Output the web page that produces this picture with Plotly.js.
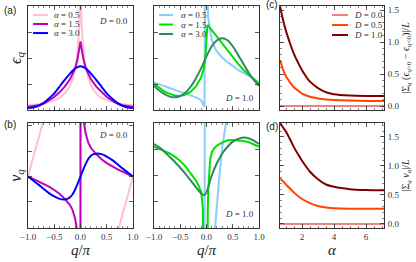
<!DOCTYPE html>
<html><head><meta charset="utf-8">
<script src="https://cdn.plot.ly/plotly-3.0.1.min.js"></script>
<style>html,body{margin:0;padding:0;background:#fff}#c{width:416px;height:262px}</style>
</head><body><div id="c"></div>
<script>
// ---------- labels ----------
const alphaLabels = ['<i>α</i> = 0.5', '<i>α</i> = 1.5', '<i>α</i> = 3.0'];
const dLabels = ['<i>D</i> = 0.0', '<i>D</i> = 0.5', '<i>D</i> = 1.0'];
const panelLabels = ['(a)', '(b)', '(c)', '(d)'];
const qTicks = [-1, -0.5, 0, 0.5, 1];
const alphaTicks = [2, 4, 6];
const rightTicks = [0, 0.5, 1, 1.5];

// ---------- (a) eps_q, D = 0 ----------
const qA05 = [-1,-0.9,-0.8,-0.7,-0.6,-0.5,-0.4,-0.3,-0.25,-0.2,-0.15,-0.1,-0.07,-0.05,-0.03,-0.02,-0.01,-0.005,0,0.005,0.01,0.02,0.03,0.05,0.07,0.1,0.15,0.2,0.25,0.3,0.4,0.5,0.6,0.7,0.8,0.9,1];
const epsA05 = [0.045,0.048,0.055,0.065,0.077,0.093,0.116,0.16,0.194,0.235,0.3,0.39,0.49,0.6,0.74,0.86,1.0,1.3,2.5,1.3,1.0,0.86,0.74,0.6,0.49,0.39,0.3,0.235,0.194,0.16,0.116,0.093,0.077,0.065,0.055,0.048,0.045];
const qA15 = [-1,-0.9,-0.8,-0.7,-0.6,-0.5,-0.4,-0.3,-0.2,-0.15,-0.1,-0.06,-0.03,-0.01,0,0.01,0.03,0.06,0.1,0.15,0.2,0.3,0.4,0.5,0.6,0.7,0.8,0.9,1];
const epsA15 = [0.032,0.035,0.045,0.062,0.092,0.125,0.17,0.225,0.295,0.345,0.405,0.48,0.56,0.62,0.66,0.62,0.56,0.48,0.405,0.345,0.295,0.225,0.17,0.125,0.092,0.062,0.045,0.035,0.032];
const qA30 = [-1,-0.9,-0.8,-0.7,-0.6,-0.5,-0.4,-0.3,-0.2,-0.1,0,0.1,0.2,0.3,0.4,0.5,0.6,0.7,0.8,0.9,1];
const epsA30 = [0.02,0.025,0.04,0.068,0.11,0.16,0.225,0.29,0.35,0.4,0.42,0.4,0.35,0.29,0.225,0.16,0.11,0.068,0.04,0.025,0.02];

// ---------- (b) v_q, D = 0 ----------
const qB05 = [-1,-0.95,-0.9,-0.85,-0.8,-0.75,-0.7,-0.6,-0.3,-0.001,0.001,0.3,0.6,0.7,0.75,0.8,0.85,0.9,0.95,1];
const vB05 = [0,0.185,0.37,0.555,0.74,0.925,1.11,1.5,2.5,6,-6,-2.5,-1.5,-1.11,-0.925,-0.74,-0.555,-0.37,-0.185,0];
const qB15 = [-1,-0.9,-0.8,-0.7,-0.6,-0.5,-0.4,-0.3,-0.2,-0.15,-0.1,-0.07,-0.04,-0.02,-0.001,0.001,0.02,0.04,0.07,0.1,0.15,0.2,0.3,0.4,0.5,0.6,0.7,0.8,0.9,1];
const vB15 = [0,-0.048,-0.095,-0.145,-0.2,-0.265,-0.34,-0.44,-0.56,-0.66,-0.84,-1.03,-1.4,-2,-6,6,2,1.4,1.03,0.84,0.66,0.56,0.44,0.34,0.265,0.2,0.145,0.095,0.048,0];
const qB30 = [-1,-0.9,-0.8,-0.7,-0.6,-0.5,-0.4,-0.3,-0.25,-0.2,-0.15,-0.1,-0.05,0,0.05,0.1,0.15,0.2,0.25,0.3,0.4,0.5,0.6,0.7,0.8,0.9,1];
const vB30 = [0,-0.08,-0.16,-0.247,-0.327,-0.393,-0.44,-0.45,-0.44,-0.41,-0.35,-0.25,-0.13,0,0.13,0.25,0.35,0.41,0.44,0.45,0.44,0.393,0.327,0.247,0.16,0.08,0];

// ---------- top middle: eps_q, D = 1 ----------
const qC05 = [-1,-0.9,-0.8,-0.7,-0.6,-0.5,-0.4,-0.3,-0.2,-0.15,-0.1,-0.07,-0.05,-0.04,-0.035,-0.03,0,0.016,0.03,0.05,0.08,0.1,0.15,0.2,0.3,0.4,0.5,0.6,0.7,0.8,0.9,1];
const epsC05 = [0.265,0.248,0.231,0.213,0.196,0.178,0.16,0.141,0.122,0.11,0.09,0.062,0.04,0.032,0.2,1.3,1.5,1.0,0.9,0.83,0.71,0.675,0.605,0.56,0.505,0.46,0.425,0.385,0.358,0.33,0.302,0.265];
const qC15 = [-1,-0.9,-0.8,-0.7,-0.6,-0.5,-0.4,-0.3,-0.2,-0.1,-0.05,-0.02,0,0.015,0.03,0.05,0.1,0.2,0.3,0.4,0.5,0.6,0.7,0.8,0.9,1];
const epsC15 = [0.252,0.21,0.177,0.155,0.139,0.135,0.148,0.177,0.226,0.316,0.403,0.516,0.694,0.806,0.813,0.8,0.768,0.703,0.629,0.565,0.5,0.445,0.387,0.339,0.29,0.252];
const qC30 = [-1,-0.9,-0.8,-0.7,-0.6,-0.5,-0.4,-0.3,-0.2,-0.1,0,0.1,0.2,0.3,0.4,0.5,0.6,0.7,0.8,0.9,1];
const epsC30 = [0.232,0.187,0.152,0.129,0.123,0.135,0.168,0.226,0.306,0.403,0.516,0.613,0.671,0.69,0.671,0.613,0.532,0.445,0.361,0.29,0.232];

// ---------- bottom middle: v_q, D = 1 ----------
const qD05 = [-1,-0.5,-0.036,-0.034,-0.02,0.12,0.14,0.162,0.2,0.25,0.3,0.346,0.38,0.5,1];
const vD05 = [-2,-2,-2,2,null,-2,-0.15,0,0.24,0.52,0.77,1.0,1.2,2,3];
const qD15 = [-1,-0.9,-0.8,-0.7,-0.6,-0.5,-0.4,-0.3,-0.2,-0.15,-0.1,-0.07,-0.05,-0.04,0,0.01,0.016,0.025,0.035,0.048,0.065,0.08,0.1,0.143,0.2,0.27,0.4,0.5,0.6,0.7,0.8,0.9,1];
const vD15 = [0.774,0.755,0.735,0.71,0.677,0.639,0.587,0.523,0.452,0.403,0.339,0.194,0.032,-0.3,-3,-0.8,0,0.2,0.37,0.516,0.62,0.68,0.72,0.758,0.785,0.806,0.835,0.839,0.835,0.829,0.819,0.797,0.774];
const qD30 = [-1,-0.9,-0.8,-0.7,-0.6,-0.5,-0.4,-0.3,-0.2,-0.1,-0.04,0,0.05,0.1,0.2,0.3,0.4,0.5,0.6,0.7,0.8,0.9,1];
const vD30 = [0.8,0.768,0.726,0.677,0.629,0.574,0.516,0.452,0.387,0.329,0.313,0.339,0.419,0.5,0.619,0.71,0.774,0.823,0.848,0.861,0.855,0.832,0.8];

// ---------- (c),(d) vs alpha ----------
const alphaGrid = [0.625,0.8,1.0,1.25,1.5,1.75,2.0,2.5,3.0,3.5,4.0,5.0,6.0,7.125];
const cD00 = [0,0,0,0,0,0,0,0,0,0,0,0,0,0];
const cD05 = [0.72,0.58,0.46,0.37,0.29,0.24,0.195,0.145,0.118,0.102,0.093,0.085,0.08,0.078];
const cD10 = [1.56,1.36,1.17,0.98,0.81,0.68,0.56,0.38,0.28,0.215,0.185,0.165,0.158,0.155];
const dD00 = [0,0,0,0,0,0,0,0,0,0,0,0,0,0];
const dD05 = [0.78,0.74,0.68,0.61,0.54,0.48,0.43,0.36,0.31,0.285,0.27,0.262,0.26,0.26];
const dD10 = [1.74,1.67,1.59,1.46,1.32,1.2,1.09,0.9,0.77,0.68,0.64,0.6,0.585,0.58];

// ---------- styles ----------
const colA = ['#ffc0cb', '#bf00bf', '#0000ff'];
const colB = ['#87cefa', '#00e000', '#2e8b57'];
const colD = ['#f08080', '#ff4500', '#800000'];
const LW = 2;
const SERIF = 'Liberation Serif, DejaVu Serif, serif';

function tr(x, y, color, xa, ya, shape) {
  return {x: x, y: y, type: 'scatter', mode: 'lines',
    line: {color: color, width: LW, shape: shape || 'linear', smoothing: 0.7},
    xaxis: xa, yaxis: ya, showlegend: false, hoverinfo: 'skip'};
}

const data = [
  tr(qA05, epsA05, colA[0], 'x', 'y'),
  tr(qA15, epsA15, colA[1], 'x', 'y'),
  tr(qA30, epsA30, colA[2], 'x', 'y', 'spline'),
  tr(qC05, epsC05, colB[0], 'x2', 'y2'),
  tr(qC15, epsC15, colB[1], 'x2', 'y2'),
  tr(qC30, epsC30, colB[2], 'x2', 'y2', 'spline'),
  tr(alphaGrid, cD00, colD[0], 'x3', 'y3', 'spline'),
  tr(alphaGrid, cD05, colD[1], 'x3', 'y3', 'spline'),
  tr(alphaGrid, cD10, colD[2], 'x3', 'y3', 'spline'),
  tr(qB05, vB05, colA[0], 'x4', 'y4'),
  tr(qB15, vB15, colA[1], 'x4', 'y4'),
  tr(qB30, vB30, colA[2], 'x4', 'y4', 'spline'),
  tr(qD05, vD05, colB[0], 'x5', 'y5'),
  tr(qD15, vD15, colB[1], 'x5', 'y5'),
  tr(qD30, vD30, colB[2], 'x5', 'y5', 'spline'),
  tr(alphaGrid, dD00, colD[0], 'x6', 'y6', 'spline'),
  tr(alphaGrid, dD05, colD[1], 'x6', 'y6', 'spline'),
  tr(alphaGrid, dD10, colD[2], 'x6', 'y6', 'spline')
];

const tickFont = {family: SERIF, size: 9, color: '#333'};
function axis(extra) {
  const base = {showline: true, linecolor: '#333', linewidth: 1, mirror: 'ticks',
    ticks: 'inside', ticklen: 4, tickwidth: 0.8, tickcolor: '#333',
    showgrid: false, zeroline: false, automargin: false, fixedrange: true,
    tickfont: tickFont};
  return Object.assign(base, extra);
}
const qMinor = {ticks: 'inside', ticklen: 2, tickwidth: 0.6, tickcolor: '#333', dtick: 0.1, showgrid: false};
const aMinor = {ticks: 'inside', ticklen: 2, tickwidth: 0.6, tickcolor: '#333', dtick: 0.5, showgrid: false};
const yMinor = {ticks: 'inside', ticklen: 2, tickwidth: 0.6, tickcolor: '#333', dtick: 0.1, showgrid: false};

const dxA = [0, 0.2949], dxM = [0.3539, 0.6489], dxR = [0.7079, 1];
const dyT = [0.5315, 1], dyB = [0, 0.473];
const xTitleFont = {family: SERIF, size: 15, color: '#222'};
const rTitleFont = {family: SERIF, size: 10, color: '#222'};

function qAxis(dom, anchor, labels) {
  return axis({domain: dom, anchor: anchor, range: [-1, 1], tickvals: qTicks,
    tickformat: '.1f', showticklabels: labels, minor: qMinor,
    title: labels ? {text: '<i>q</i>/<i>π</i>', font: xTitleFont, standoff: 1} : undefined});
}
function aAxis(dom, anchor, labels) {
  return axis({domain: dom, anchor: anchor, range: [0.625, 7.125], tickvals: alphaTicks,
    showticklabels: labels, minor: aMinor,
    title: labels ? {text: '<i>α</i>', font: xTitleFont, standoff: 1} : undefined});
}
function plainY(dom, anchor, rng, dt, title) {
  return axis({domain: dom, anchor: anchor, range: rng, dtick: dt, showticklabels: false,
    title: title ? {text: title, font: {family: SERIF, size: 16, color: '#222'}, standoff: 1} : undefined});
}
function rightY(dom, anchor, rng, title) {
  return axis({domain: dom, anchor: anchor, range: rng, side: 'right', tickvals: rightTicks,
    tickformat: '.1f', minor: yMinor, ticklabelstandoff: 1,
    title: {text: title, font: rTitleFont, standoff: 2}});
}

const annotations = [];
const shapes = [];
function ann(xref, yref, x, y, text, font, xanchor) {
  annotations.push({xref: xref, yref: yref, x: x, y: y, text: text, showarrow: false,
    font: font, xanchor: xanchor || 'center', yanchor: 'middle'});
}
const labFont = {family: 'Liberation Sans, Arial, sans-serif', size: 10, color: '#222'};
const smallFont = {family: SERIF, size: 9, color: '#333'};
ann('x domain', 'y domain', -0.171, 0.96, panelLabels[0], labFont);
ann('x4 domain', 'y4 domain', -0.171, 0.99, panelLabels[1], labFont);
ann('x3 domain', 'y3 domain', -0.077, 1.01, panelLabels[2], labFont);
ann('x6 domain', 'y6 domain', -0.077, 0.971, panelLabels[3], labFont);
ann('x domain', 'y domain', 0.81, 0.856, dLabels[0], smallFont);
ann('x4 domain', 'y4 domain', 0.81, 0.886, dLabels[0], smallFont);
ann('x2 domain', 'y2 domain', 0.819, 0.115, dLabels[2], smallFont);
ann('x5 domain', 'y5 domain', 0.819, 0.133, dLabels[2], smallFont);

function legend(xa, ya, x0, x1, xt, ys, cols, labels) {
  for (let i = 0; i < labels.length; i++) {
    shapes.push({type: 'line', xref: xa + ' domain', yref: ya + ' domain',
      x0: x0, x1: x1, y0: ys[i], y1: ys[i], line: {color: cols[i], width: LW}});
    ann(xa + ' domain', ya + ' domain', xt, ys[i], labels[i], smallFont, 'left');
  }
}
legend('x', 'y', 0.048, 0.19, 0.225, [0.913, 0.827, 0.74], colA, alphaLabels);
legend('x2', 'y2', 0.048, 0.181, 0.235, [0.913, 0.822, 0.731], colB, alphaLabels);
legend('x3', 'y3', 0.5, 0.654, 0.69, [0.913, 0.817, 0.721], colD, dLabels);

const layout = {
  width: 416, height: 262,
  margin: {l: 28, r: 32, t: 6, b: 34, pad: 0},
  paper_bgcolor: '#fff', plot_bgcolor: '#fff',
  showlegend: false,
  xaxis: qAxis(dxA, 'y', false),
  yaxis: plainY(dyT, 'x', [0, 1], 0.25, '<i>ϵ</i><sub><i>q</i></sub>'),
  xaxis2: qAxis(dxM, 'y2', false),
  yaxis2: plainY(dyT, 'x2', [0, 1], 0.25),
  xaxis3: aAxis(dxR, 'y3', false),
  yaxis3: rightY(dyT, 'x3', [-0.0625, 1.5625],
    '|Σ<sub><i>q</i></sub> (<i>ϵ</i><sub><i>q</i>&gt;0</sub> − <i>ϵ</i><sub><i>q</i>&lt;0</sub>)|/<i>L</i>'),
  xaxis4: qAxis(dxA, 'y4', true),
  yaxis4: plainY(dyB, 'x4', [-1.013, 1.053], 0.5, '<i>v</i><sub><i>q</i></sub>'),
  xaxis5: qAxis(dxM, 'y5', true),
  yaxis5: plainY(dyB, 'x5', [0, 1], 0.25),
  xaxis6: aAxis(dxR, 'y6', true),
  yaxis6: rightY(dyB, 'x6', [-0.07, 1.74], '|Σ<sub><i>q</i></sub> <i>v</i><sub><i>q</i></sub>|/<i>L</i>'),
  annotations: annotations,
  shapes: shapes
};

Plotly.newPlot('c', data, layout, {displayModeBar: false, staticPlot: true});
</script></body></html>
